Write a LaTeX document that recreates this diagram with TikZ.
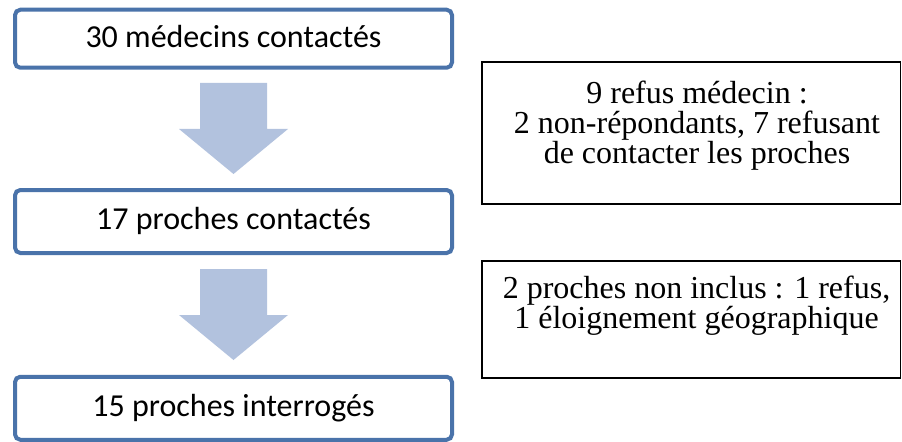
\documentclass[tikz,border=0pt]{standalone}
\usepackage{fontspec}
\setmainfont{Liberation Serif}
\newfontfamily\timesfont{Liberation Serif}
\newfontfamily\carlito{Carlito}
\usetikzlibrary{calc}
\definecolor{boxblue}{RGB}{74,115,170}
\definecolor{arrowblue}{RGB}{178,194,222}
\tikzset{
  stagebox/.style={draw=boxblue,line width=3pt,rounded corners=4pt,fill=white,
    minimum width=327.75pt,text height=16pt,text depth=3.6pt,
    font=\carlito\fontsize{24}{28}\selectfont},
  notebox/.style={draw=black,line width=1.1pt,minimum width=313.9pt},
  notetext/.style={align=center,font=\timesfont\fontsize{24}{22.5}\selectfont},
  downarrow/.style={fill=arrowblue}
}

\begin{document}
\begin{tikzpicture}[x=0.75pt,y=-0.75pt]
\useasboundingbox (0,0) rectangle (902,442);
% block arrows
\foreach \y in {83,269}
  \fill[downarrow] (200,\y) -- ++(67,0) -- ++(0,46) -- ++(21,0) -- ++(-54.5,45)
    -- ++(-54.5,-45) -- ++(21,0) -- cycle;
% left column
\node[stagebox,minimum height=43.5pt] (medecins) at (233.5,38.75) {30 médecins contactés};
\node[stagebox,minimum height=47.25pt] (proches) at (233.5,221.5) {17 proches contactés};
\node[stagebox,minimum height=47.25pt] (interroges) at (233.5,408.25) {15 proches interrogés};
% right column
\node[notebox,minimum height=106.5pt] (refusmedecin) at (691.25,133) {};
\node[notetext] (refusmedecintext) at (697,125.2) {9 refus médecin :\\2 non-répondants, 7 refusant\\de contacter les proches};
\node[notebox,minimum height=87.75pt] (noninclus) at (691.25,319.5) {};
\node[notetext] (noninclustext) at (696.5,305.5) {2 proches non inclus : 1 refus,\\1 éloignement géographique};
\end{tikzpicture}
\end{document}
